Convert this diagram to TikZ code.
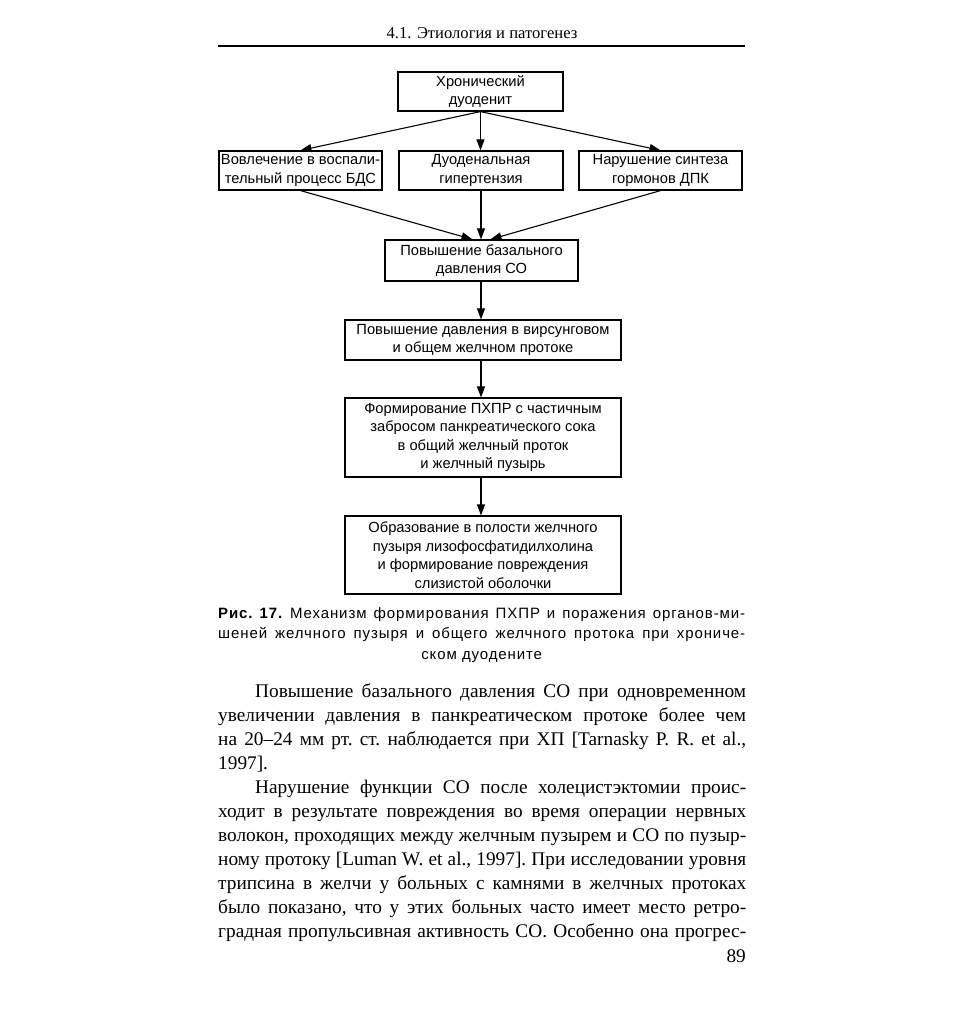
\documentclass[tikz,border=0pt]{standalone}
\usepackage{fontspec}
\setmainfont{Liberation Serif}
\newfontfamily\dsans{Liberation Sans}
\newfontfamily\capsans[LetterSpace=6]{Liberation Sans}
\usetikzlibrary{arrows.meta}
\begin{document}
\begin{tikzpicture}[x=1pt,y=-1pt,
  box/.style={draw, line width=1.2pt, inner sep=2pt, align=center,
    font=\dsans\fontsize{14.7}{18.5}\selectfont},
  arr/.style={-{Triangle[length=11pt,width=8pt]}, line width=1.1pt},
  para/.style={inner sep=0pt, anchor=base west, align=justify},
]
\useasboundingbox[fill=white] (0,0) rectangle (964,1014);

% header
\node[inner sep=0pt, anchor=base, font=\fontsize{16.6}{19}\selectfont] (hdr) at (482,39) {4.1. Этиология и патогенез};
\coordinate (rl) at (218,46);
\coordinate (rr) at (745,46);
\draw[line width=1.6pt] (rl) -- (rr);

% boxes
\node[box, minimum width=165pt, minimum height=39pt] (b1) at (480.5,91.5) {Хронический\\дуоденит};
\node[box, minimum width=162pt, minimum height=39pt] (l) at (300.5,170.5) {Вовлечение в воспали-\\тельный процесс БДС};
\node[box, minimum width=164pt, minimum height=39pt] (m) at (481,170.5) {Дуоденальная\\гипертензия};
\node[box, minimum width=163pt, minimum height=39pt] (r) at (660.5,170.5) {Нарушение синтеза\\гормонов ДПК};
\node[box, minimum width=193pt, minimum height=41pt] (b3) at (481.5,260.5) {Повышение базального\\давления СО};
\node[box, minimum width=276pt, minimum height=40pt] (b4) at (483,340) {Повышение давления в вирсунговом\\и общем желчном протоке};
\node[box, minimum width=276pt, minimum height=79pt] (b5) at (483,437.5) {Формирование ПХПР с частичным\\забросом панкреатического сока\\в общий желчный проток\\и желчный пузырь};
\node[box, minimum width=276pt, minimum height=78pt] (b6) at (483,555) {Образование в полости желчного\\пузыря лизофосфатидилхолина\\и формирование повреждения\\слизистой оболочки};

% arrows
\draw[arr] (b1.south) -- (l.north);
\draw[arr] (b1.south) -- (b1.south |- m.north);
\draw[arr] (b1.south) -- (r.north);
\draw[arr] (l.south) -- ([xshift=-9pt]b3.north);
\draw[arr] (m.south) -- (m.south |- b3.north);
\draw[arr] (r.south) -- ([xshift=9pt]b3.north);
\draw[arr] (b3.south -| m.south) -- (m.south |- b4.north);
\draw[arr] (b4.south -| m.south) -- (m.south |- b5.north);
\draw[arr] (b5.south -| m.south) -- (m.south |- b6.north);

% caption
\node[para, text width=527pt, font=\capsans\fontsize{15}{20.5}\selectfont] (cap) at (218,618) {%
\frenchspacing\hyphenpenalty=10000 \tolerance=10000
{\parfillskip=0pt \textbf{Рис. 17.} Механизм формирования ПХПР и поражения органов-ми-\linebreak
шеней желчного пузыря и общего желчного протока при хрониче-\par}
{\centering ском дуодените\par}};

% body text
\node[para, text width=528pt, font=\fontsize{19.3}{24}\selectfont] (body) at (218,697) {%
\frenchspacing\hyphenpenalty=10000 \tolerance=10000
\spaceskip=0.25em plus 0.3em minus 0.1em
\hspace*{37pt}Повышение базального давления СО при одновременном\linebreak
увеличении давления в панкреатическом протоке более чем\linebreak
на 20–24 мм рт. ст. наблюдается при ХП [Tarnasky P. R. et al.,\linebreak
1997].\par
{\parfillskip=0pt
\hspace*{37pt}Нарушение функции СО после холецистэктомии проис-\linebreak
ходит в результате повреждения во время операции нервных\linebreak
волокон, проходящих между желчным пузырем и СО по пузыр-\linebreak
ному протоку [Luman W. et al., 1997]. При исследовании уровня\linebreak
трипсина в желчи у больных с камнями в желчных протоках\linebreak
было показано, что у этих больных часто имеет место ретро-\linebreak
градная пропульсивная активность СО. Особенно она прогрес-\par}};

% page number
\node[inner sep=0pt, anchor=base east, font=\fontsize{19.3}{24}\selectfont] (pg) at (746,962) {89};
\end{tikzpicture}
\end{document}
